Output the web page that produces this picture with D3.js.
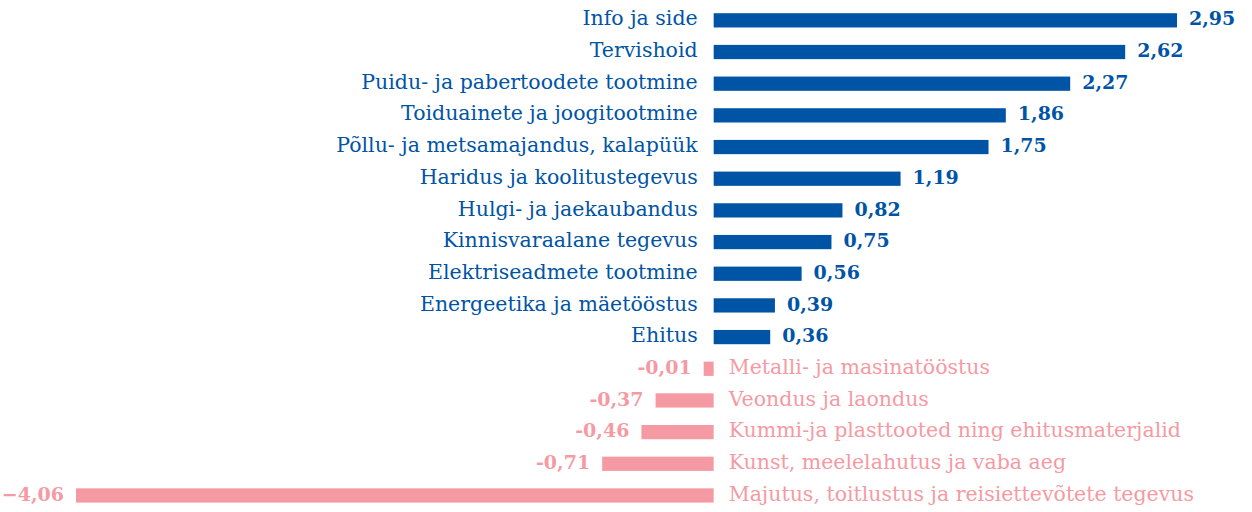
<!DOCTYPE html>
<html>
<head>
<meta charset="utf-8">
<script src="https://cdn.jsdelivr.net/npm/d3@7"></script>
<style>
html,body{margin:0;padding:0;background:#fff;}
svg{display:block;}
</style>
</head>
<body>
<svg id="chart" width="1252" height="512"></svg>
<script>
const categories = [
  "Info ja side",
  "Tervishoid",
  "Puidu- ja pabertoodete tootmine",
  "Toiduainete ja joogitootmine",
  "Põllu- ja metsamajandus, kalapüük",
  "Haridus ja koolitustegevus",
  "Hulgi- ja jaekaubandus",
  "Kinnisvaraalane tegevus",
  "Elektriseadmete tootmine",
  "Energeetika ja mäetööstus",
  "Ehitus",
  "Metalli- ja masinatööstus",
  "Veondus ja laondus",
  "Kummi-ja plasttooted ning ehitusmaterjalid",
  "Kunst, meelelahutus ja vaba aeg",
  "Majutus, toitlustus ja reisiettevõtete tegevus"
];
const values = [2.95, 2.62, 2.27, 1.86, 1.75, 1.19, 0.82, 0.75, 0.56, 0.39, 0.36, -0.01, -0.37, -0.46, -0.71, -4.06];
const valueLabels = ["2,95","2,62","2,27","1,86","1,75","1,19","0,82","0,75","0,56","0,39","0,36","-0,01","-0,37","-0,46","-0,71","\u22124,06"];

const blue = "#0054a5";
const pink = "#f59aa3";
const font = "'DejaVu Serif', serif";

const svg = d3.select("#chart");
const x = d3.scaleLinear().domain([-4.06, 2.95]).range([76, 1177]);
const y = d3.scaleBand().domain(categories).range([4.5, 511.3]).paddingInner(0.55).paddingOuter(0.275);

const data = categories.map((c, i) => ({c, v: values[i], l: valueLabels[i]}));
const minW = 10;
const x0 = x(0);

const g = svg.append("g");
g.selectAll("rect").data(data).enter().append("rect")
  .attr("x", d => d.v >= 0 ? x0 : Math.min(x(d.v), x0 - minW))
  .attr("width", d => Math.max(Math.abs(x(d.v) - x0), minW))
  .attr("y", d => y(d.c))
  .attr("height", y.bandwidth())
  .attr("fill", d => d.v >= 0 ? blue : pink);

// category labels
g.selectAll("text.cat").data(data).enter().append("text")
  .attr("class", "cat")
  .attr("x", d => d.v >= 0 ? x0 - 16 : x0 + 15)
  .attr("y", d => y(d.c) + y.bandwidth() / 2)
  .attr("dy", "0.25em")
  .attr("text-anchor", d => d.v >= 0 ? "end" : "start")
  .attr("font-family", font)
  .attr("font-size", 20.5)
  .attr("fill", d => d.v >= 0 ? blue : pink)
  .text(d => d.c);

// value labels
g.selectAll("text.val").data(data).enter().append("text")
  .attr("class", "val")
  .attr("x", d => d.v >= 0 ? x0 + Math.max(x(d.v) - x0, minW) + 12 : x0 - Math.max(x0 - x(d.v), minW) - 12)
  .attr("y", d => y(d.c) + y.bandwidth() / 2)
  .attr("dy", "0.27em")
  .attr("text-anchor", d => d.v >= 0 ? "start" : "end")
  .attr("font-family", font)
  .attr("font-weight", "bold")
  .attr("font-size", 19)
  .attr("fill", d => d.v >= 0 ? blue : pink)
  .text(d => d.l);
</script>
</body>
</html>
